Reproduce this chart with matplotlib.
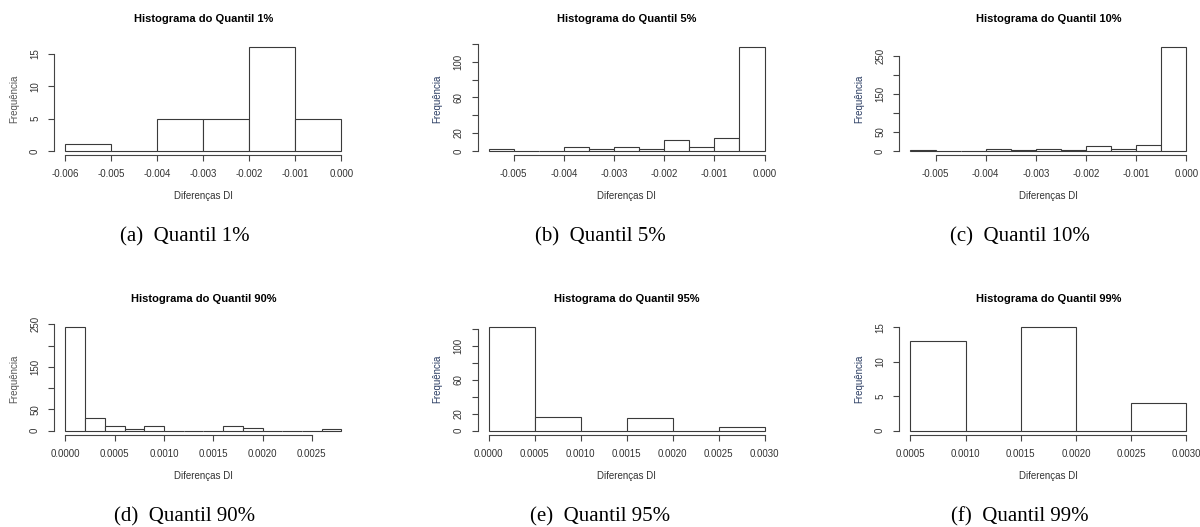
import matplotlib
matplotlib.use("Agg")
import matplotlib.pyplot as plt
import numpy as np

# ---------------- data ----------------
titles = ["Histograma do Quantil 1%", "Histograma do Quantil 5%", "Histograma do Quantil 10%",
          "Histograma do Quantil 90%", "Histograma do Quantil 95%", "Histograma do Quantil 99%"]
captions = ["(a)  Quantil 1%", "(b)  Quantil 5%", "(c)  Quantil 10%",
            "(d)  Quantil 90%", "(e)  Quantil 95%", "(f)  Quantil 99%"]

q01_edges = [-0.006, -0.005, -0.004, -0.003, -0.002, -0.001, 0.000]
q01_counts = [1, 0, 5, 5, 16, 5]

q05_edges = [-0.0055, -0.0050, -0.0045, -0.0040, -0.0035, -0.0030, -0.0025,
             -0.0020, -0.0015, -0.0010, -0.0005, 0.0000]
q05_counts = [2, 0, 0, 4, 2, 4, 2, 12, 4, 14, 116]

q10_edges = [-0.0055, -0.0050, -0.0045, -0.0040, -0.0035, -0.0030, -0.0025,
             -0.0020, -0.0015, -0.0010, -0.0005, 0.0000]
q10_counts = [2, 0, 0, 4, 2, 4, 2, 13, 4, 15, 273]

q90_edges = [0.0000, 0.0002, 0.0004, 0.0006, 0.0008, 0.0010, 0.0012, 0.0014,
             0.0016, 0.0018, 0.0020, 0.0022, 0.0024, 0.0026, 0.0028]
q90_counts = [243, 29, 10, 5, 10, 0, 0, 0, 10, 7, 0, 0, 0, 3]

q95_edges = [0.0000, 0.0005, 0.0010, 0.0015, 0.0020, 0.0025, 0.0030]
q95_counts = [122, 16, 0, 15, 0, 4]

q99_edges = [0.0005, 0.0010, 0.0015, 0.0020, 0.0025, 0.0030]
q99_counts = [13, 0, 15, 0, 4]

x_ticks = [
    [-0.006, -0.005, -0.004, -0.003, -0.002, -0.001, 0.000],
    [-0.005, -0.004, -0.003, -0.002, -0.001, 0.000],
    [-0.005, -0.004, -0.003, -0.002, -0.001, 0.000],
    [0.0000, 0.0005, 0.0010, 0.0015, 0.0020, 0.0025],
    [0.0000, 0.0005, 0.0010, 0.0015, 0.0020, 0.0025, 0.0030],
    [0.0005, 0.0010, 0.0015, 0.0020, 0.0025, 0.0030],
]
x_fmt = ["{:.3f}", "{:.3f}", "{:.3f}", "{:.4f}", "{:.4f}", "{:.4f}"]
y_ticks = [
    [0, 5, 10, 15],
    [0, 20, 40, 60, 80, 100, 120],
    [0, 50, 100, 150, 200, 250],
    [0, 50, 100, 150, 200, 250],
    [0, 20, 40, 60, 80, 100, 120],
    [0, 5, 10, 15],
]
y_labels = [
    ["0", "5", "10", "15"],
    ["0", "20", "", "60", "", "100", ""],
    ["0", "50", "", "150", "", "250"],
    ["0", "50", "", "150", "", "250"],
    ["0", "20", "", "60", "", "100", ""],
    ["0", "5", "10", "15"],
]
ylab_colors = ["#555555", "#2b3d63", "#2b3d63", "#555555", "#2b3d63", "#2b3d63"]

all_edges = [q01_edges, q05_edges, q10_edges, q90_edges, q95_edges, q99_edges]
all_counts = [q01_counts, q05_counts, q10_counts, q90_counts, q95_counts, q99_counts]

# ---------------- layout ----------------
W, H = 1200, 527
fig = plt.figure(figsize=(W / 100, H / 100), dpi=100)

col_left = [54.4, 477.6, 899.4]
ax_w = 298.0
row_top = [43.3, 323.1]
ax_h = 111.8
cap_x = [185, 600, 1020]
cap_y = [237, 517]

sans = "Liberation Sans"
serif = "Liberation Serif"
edge_c = "#3a3a3a"
axis_c = "#444444"
text_c = "#333333"

for i in range(6):
    r, c = divmod(i, 3)
    l, t = col_left[c], row_top[r]
    ax = fig.add_axes([l / W, 1 - (t + ax_h) / H, ax_w / W, ax_h / H])
    edges = np.array(all_edges[i])
    counts = np.array(all_counts[i])
    widths = np.diff(edges)
    ax.bar(edges[:-1], counts, width=widths, align="edge", color="white",
           edgecolor=edge_c, linewidth=0.8)
    xr = edges[-1] - edges[0]
    ax.set_xlim(edges[0] - 0.04 * xr, edges[-1] + 0.04 * xr)
    ym = counts.max()
    ax.set_ylim(-0.04 * ym, ym * 1.04)

    for s in ["top", "right"]:
        ax.spines[s].set_visible(False)
    for s in ["left", "bottom"]:
        ax.spines[s].set_color(axis_c)
        ax.spines[s].set_linewidth(0.8)
    xt = x_ticks[i]
    yt = y_ticks[i]
    ax.spines["bottom"].set_bounds(xt[0], xt[-1])
    ax.spines["left"].set_bounds(yt[0], yt[-1])
    ax.set_xticks(xt)
    ax.set_xticklabels([x_fmt[i].format(v) for v in xt])
    ax.set_yticks(yt)
    ax.set_yticklabels(y_labels[i])
    ax.tick_params(axis="both", direction="out", length=4, width=0.8, color=axis_c,
                   labelsize=7, labelcolor=text_c, pad=6.3)
    ax.tick_params(axis="y", labelrotation=90)
    for lab in ax.get_xticklabels() + ax.get_yticklabels():
        lab.set_fontfamily(sans)
    for lab in ax.get_yticklabels():
        lab.set_va("center")

    cx = l + ax_w / 2
    fig.text(cx / W, 1 - (t - 24.5) / H, titles[i], ha="center", va="center",
             fontsize=8, fontweight="bold", family=sans, color="black")
    fig.text(cx / W, 1 - (t + ax_h + 41) / H, "Diferenças DI", ha="center", va="center",
             fontsize=7, family=sans, color=text_c)
    fig.text((l - 40) / W, 1 - (t + ax_h / 2) / H, "Frequência", ha="center", va="center",
             rotation=90, fontsize=7, family=sans, color=ylab_colors[i])
    fig.text(cap_x[c] / W, 1 - cap_y[r] / H, captions[i], ha="center", va="center",
             fontsize=15, family=serif, color="black")

fig.savefig("out.png", dpi=100, facecolor="white")
